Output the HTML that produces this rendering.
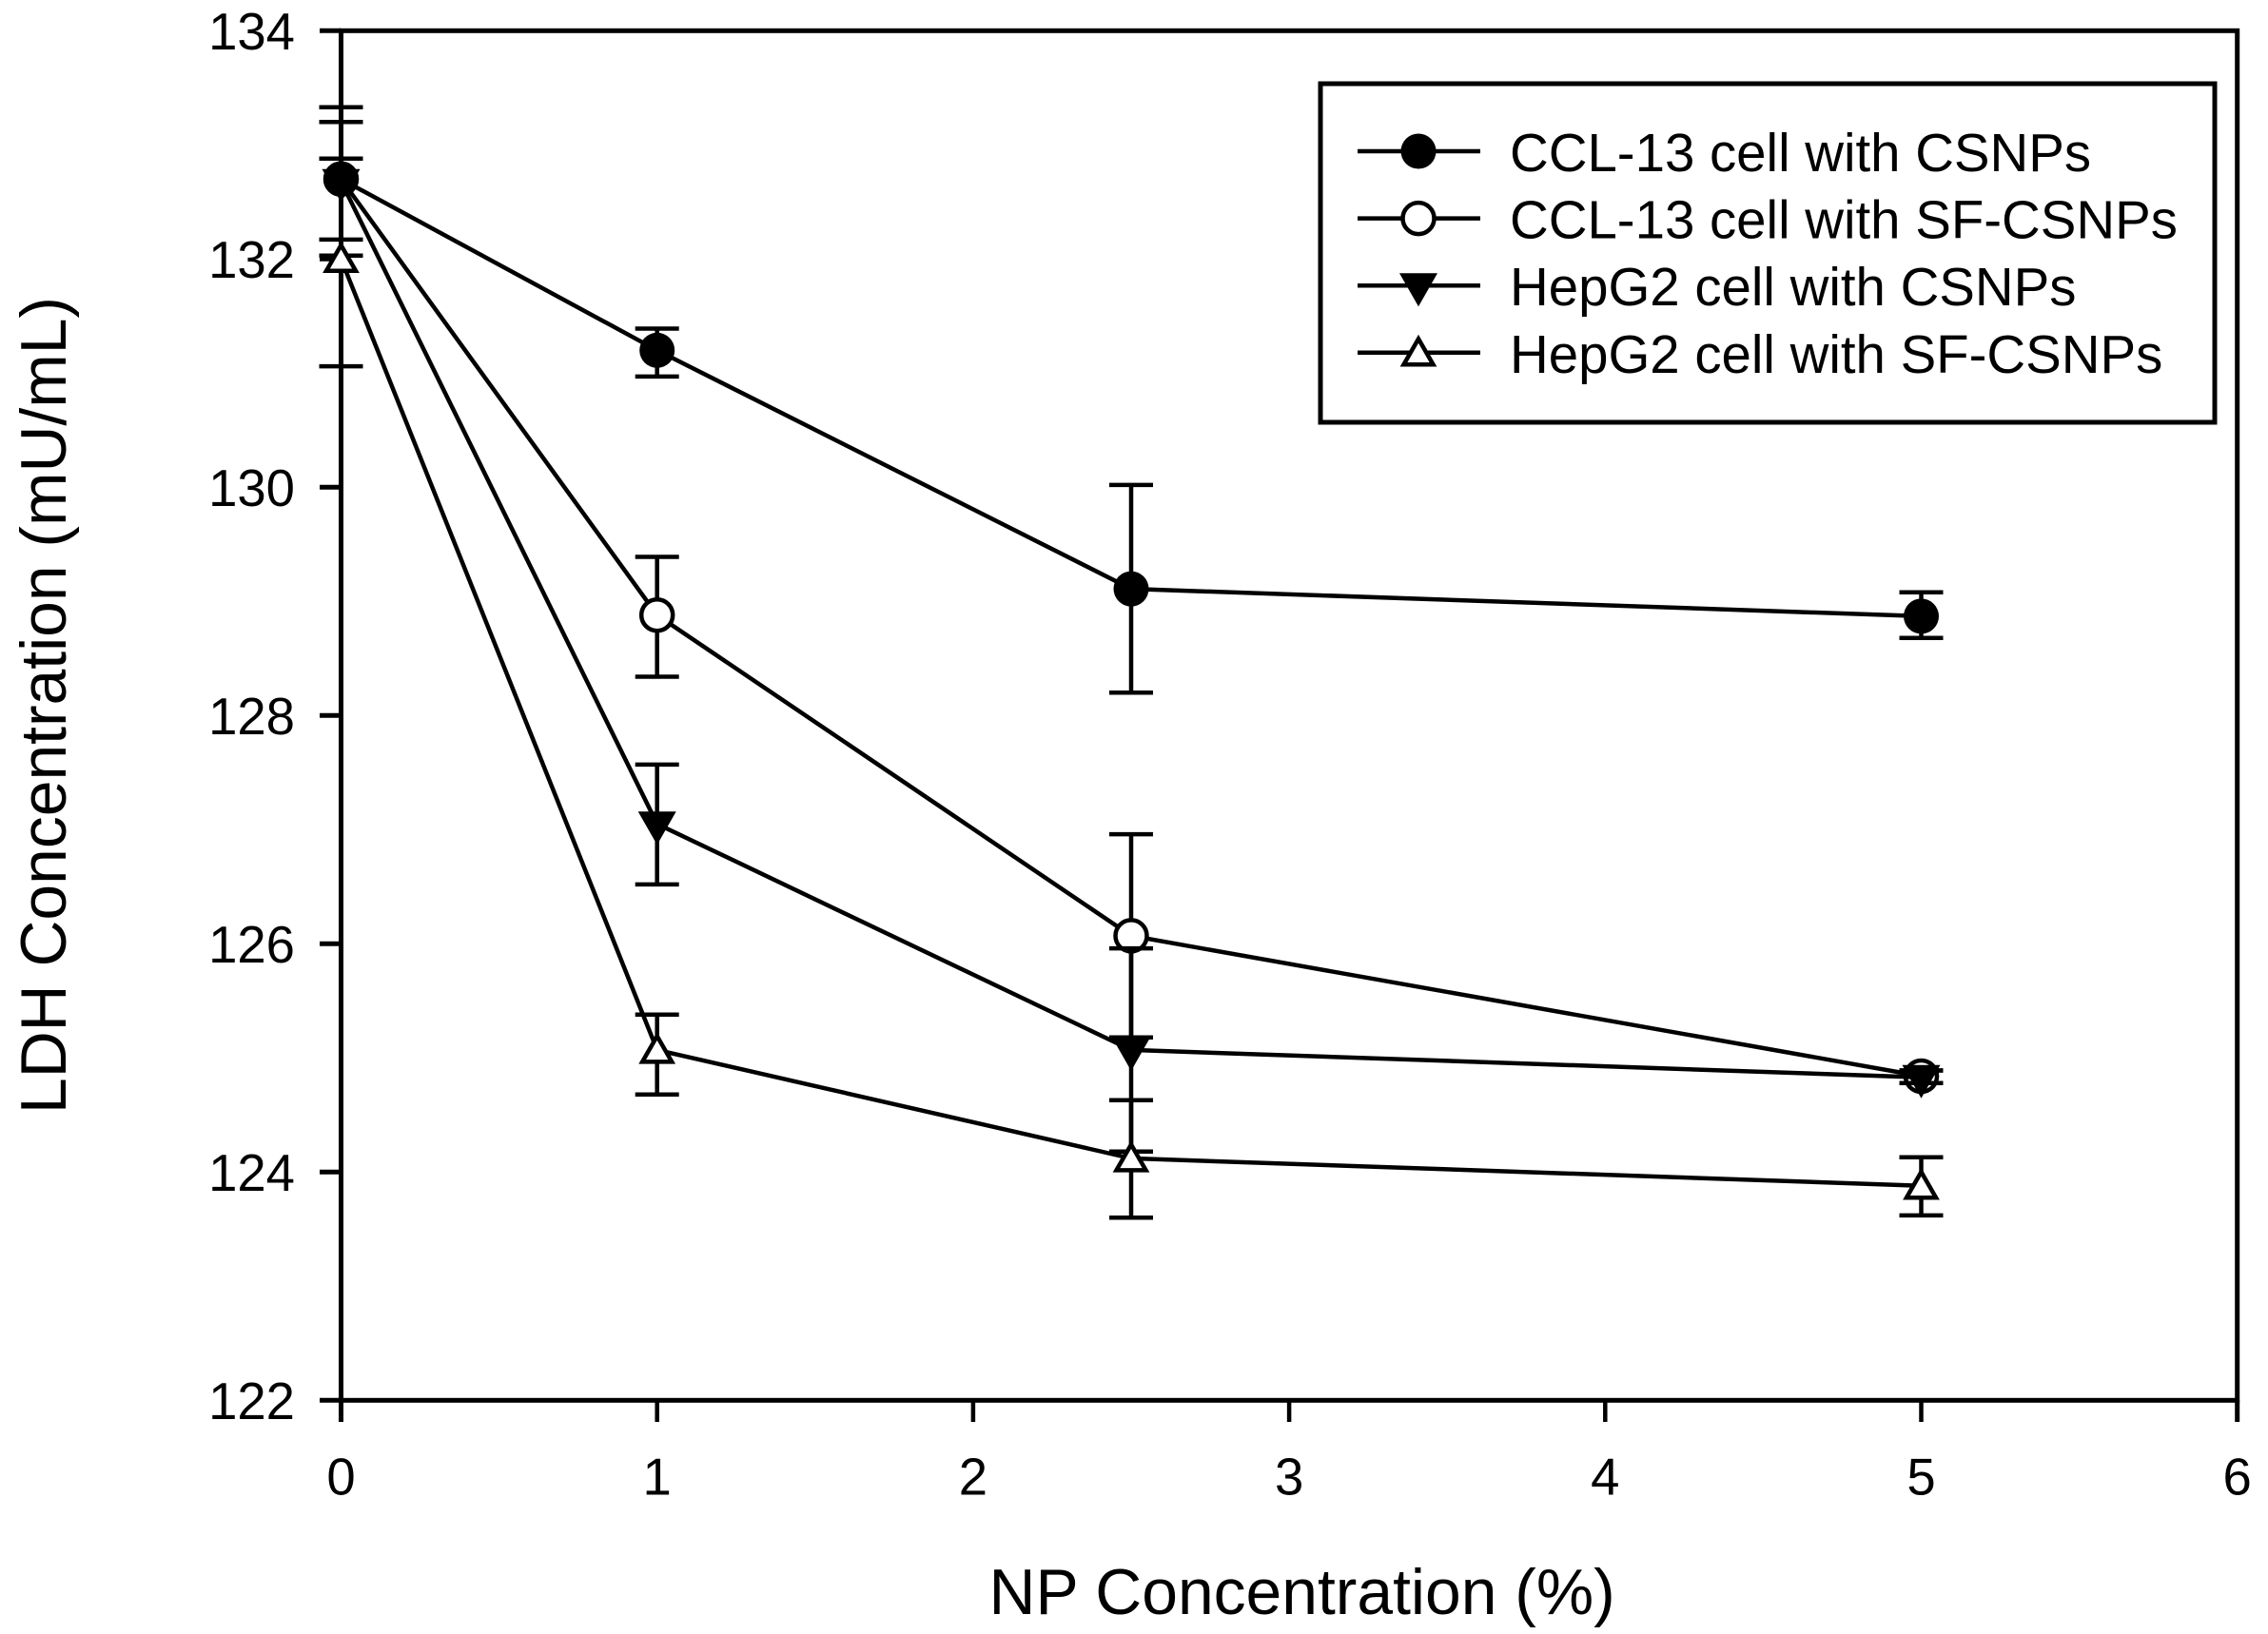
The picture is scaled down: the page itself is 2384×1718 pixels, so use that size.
<!DOCTYPE html>
<html lang="en">
<head>
<meta charset="utf-8">
<title>LDH Concentration vs NP Concentration</title>
<style>
html,body{margin:0;padding:0;background:#fff;}
body{width:2384px;height:1718px;overflow:hidden;}
svg{display:block;}
text{font-family:"Liberation Sans",Arial,sans-serif;fill:#000;}
</style>
</head>
<body>
<svg id="chart" xmlns="http://www.w3.org/2000/svg" width="2384" height="1718" viewBox="0 0 2384 1718">
  <rect x="0" y="0" width="2384" height="1718" fill="#fff"/>
  <text transform="translate(69,1171) rotate(-90)" font-size="67.8">LDH Concentration (mU/mL)</text>
  <text x="1039.5" y="1697" font-size="67.8">NP Concentration (%)</text>
</svg>
<script>
const xTickLabels = [0, 1, 2, 3, 4, 5, 6];
const yTickLabels = [122, 124, 126, 128, 130, 132, 134];
const concentrations = [0, 1, 2.5, 5];
const seriesNames = ['CCL-13 cell with CSNPs', 'CCL-13 cell with SF-CSNPs', 'HepG2 cell with CSNPs', 'HepG2 cell with SF-CSNPs'];
const seriesKeys = ['ccl13-csnps', 'ccl13-sf-csnps', 'hepg2-csnps', 'hepg2-sf-csnps'];
const seriesMarkers = ['filled-circle', 'open-circle', 'filled-down-triangle', 'open-up-triangle'];
const drawOrder = [1, 0, 2, 3];

const ccl13Csnps = [132.70, 131.20, 129.11, 128.87];
const ccl13CsnpsUpper = [133.33, 131.39, 130.02, 129.08];
const ccl13CsnpsLower = [132.03, 130.97, 128.20, 128.68];

const ccl13SfCsnps = [132.70, 128.88, 126.07, 124.84];
const ccl13SfCsnpsUpper = [133.20, 129.39, 126.96, 124.89];
const ccl13SfCsnpsLower = [132.17, 128.34, 125.18, 124.78];

const hepg2Csnps = [132.68, 127.05, 125.07, 124.83];
const hepg2CsnpsUpper = [132.68, 127.57, 125.96, 124.89];
const hepg2CsnpsLower = [132.68, 126.52, 124.18, 124.78];

const hepg2SfCsnps = [132.00, 125.07, 124.12, 123.88];
const hepg2SfCsnpsUpper = [132.88, 125.38, 124.63, 124.13];
const hepg2SfCsnpsLower = [131.06, 124.68, 123.60, 123.62];

const seriesMeans = [ccl13Csnps, ccl13SfCsnps, hepg2Csnps, hepg2SfCsnps];
const seriesUpper = [ccl13CsnpsUpper, ccl13SfCsnpsUpper, hepg2CsnpsUpper, hepg2SfCsnpsUpper];
const seriesLower = [ccl13CsnpsLower, ccl13SfCsnpsLower, hepg2CsnpsLower, hepg2SfCsnpsLower];

const NS = 'http://www.w3.org/2000/svg';
const svg = document.getElementById('chart');
const plotLeft = 358.5, plotRight = 2351.7, plotTop = 32.3, plotBottom = 1472.3;
const xMin = 0, xMax = 6, yMin = 122, yMax = 134;

function xScale(v) { return plotLeft + (v - xMin) / (xMax - xMin) * (plotRight - plotLeft); }
function yScale(v) { return plotBottom - (v - yMin) / (yMax - yMin) * (plotBottom - plotTop); }

function make(tag, parent, props) {
  const el = document.createElementNS(NS, tag);
  for (const k in props) el.setAttribute(k, props[k]);
  parent.appendChild(el);
  return el;
}
function segment(parent, x1, y1, x2, y2, w) {
  return make('line', parent, { x1: x1, y1: y1, x2: x2, y2: y2, stroke: '#000', 'stroke-width': w });
}
function drawMarker(parent, kind, cx, cy) {
  if (kind === 'filled-circle') {
    return make('circle', parent, { cx: cx, cy: cy, r: 18.5, fill: '#000' });
  }
  if (kind === 'open-circle') {
    return make('circle', parent, { cx: cx, cy: cy, r: 16.5, fill: '#fff', stroke: '#000', 'stroke-width': 4.5 });
  }
  if (kind === 'filled-down-triangle') {
    return make('polygon', parent, { points: (cx - 20) + ',' + (cy - 13) + ' ' + (cx + 20) + ',' + (cy - 13) + ' ' + cx + ',' + (cy + 22), fill: '#000' });
  }
  return make('polygon', parent, { points: (cx - 15.5) + ',' + (cy + 12.5) + ' ' + (cx + 15.5) + ',' + (cy + 12.5) + ' ' + cx + ',' + (cy - 14.5), fill: '#fff', stroke: '#000', 'stroke-width': 4.5 });
}

/* axes */
const axes = make('g', svg, {});



const frame = make('rect', axes, { x: plotLeft, y: plotTop, width: plotRight - plotLeft, height: plotBottom - plotTop, fill: 'none', stroke: '#000', 'stroke-width': 5 });



yTickLabels.forEach(function (v) {
  const y = yScale(v);
  const tick = segment(axes, 336, y, plotLeft, y, 5);
  
  
  const label = make('text', axes, { x: 310, y: y + 19.5, 'font-size': 54.5, 'text-anchor': 'end' });
  label.textContent = String(v);
  
  
});

xTickLabels.forEach(function (v) {
  const x = xScale(v);
  const tick = segment(axes, x, plotBottom, x, 1495, (v === 0 || v === 6) ? 5 : 4.5);
  
  
  const label = make('text', axes, { x: x, y: 1571.5, 'font-size': 54.5, 'text-anchor': 'middle' });
  label.textContent = String(v);
  
  
});

/* series */
drawOrder.forEach(function (s) {
  const means = seriesMeans[s];
  const group = make('g', svg, {});
  
  

  concentrations.forEach(function (c, i) {
    if (seriesUpper[s][i] - seriesLower[s][i] < 0.01) return;
    const x = xScale(c);
    const bars = make('g', group, {});
    
    
    const yU = yScale(seriesUpper[s][i]);
    const yL = yScale(seriesLower[s][i]);
    segment(bars, x, yU, x, yL, 4.5);
    segment(bars, x - 23, yU, x + 23, yU, 4.5);
    segment(bars, x - 23, yL, x + 23, yL, 4.5);
  });

  const pts = concentrations.map(function (c, i) { return xScale(c) + ',' + yScale(means[i]); }).join(' ');
  const line = make('polyline', group, { points: pts, fill: 'none', stroke: '#000', 'stroke-width': 4.5 });
  
  

  concentrations.forEach(function (c, i) {
    const m = drawMarker(group, seriesMarkers[s], xScale(c), yScale(means[i]));
    
    
  });
});

/* legend */
const legend = make('g', svg, {});



const legendBox = make('rect', legend, { x: 1388, y: 88, width: 940, height: 356, fill: '#fff', stroke: '#000', 'stroke-width': 5 });



seriesNames.forEach(function (name, s) {
  const rowY = 159 + s * 70.6;
  const entry = make('g', legend, {});
  
  
  segment(entry, 1427, rowY, 1556, rowY, 4.5);
  drawMarker(entry, seriesMarkers[s], 1491, rowY);
  const label = make('text', entry, { x: 1587, y: rowY + 21, 'font-size': 56.4 });
  label.textContent = name;
  
  
});
</script>
</body>
</html>
